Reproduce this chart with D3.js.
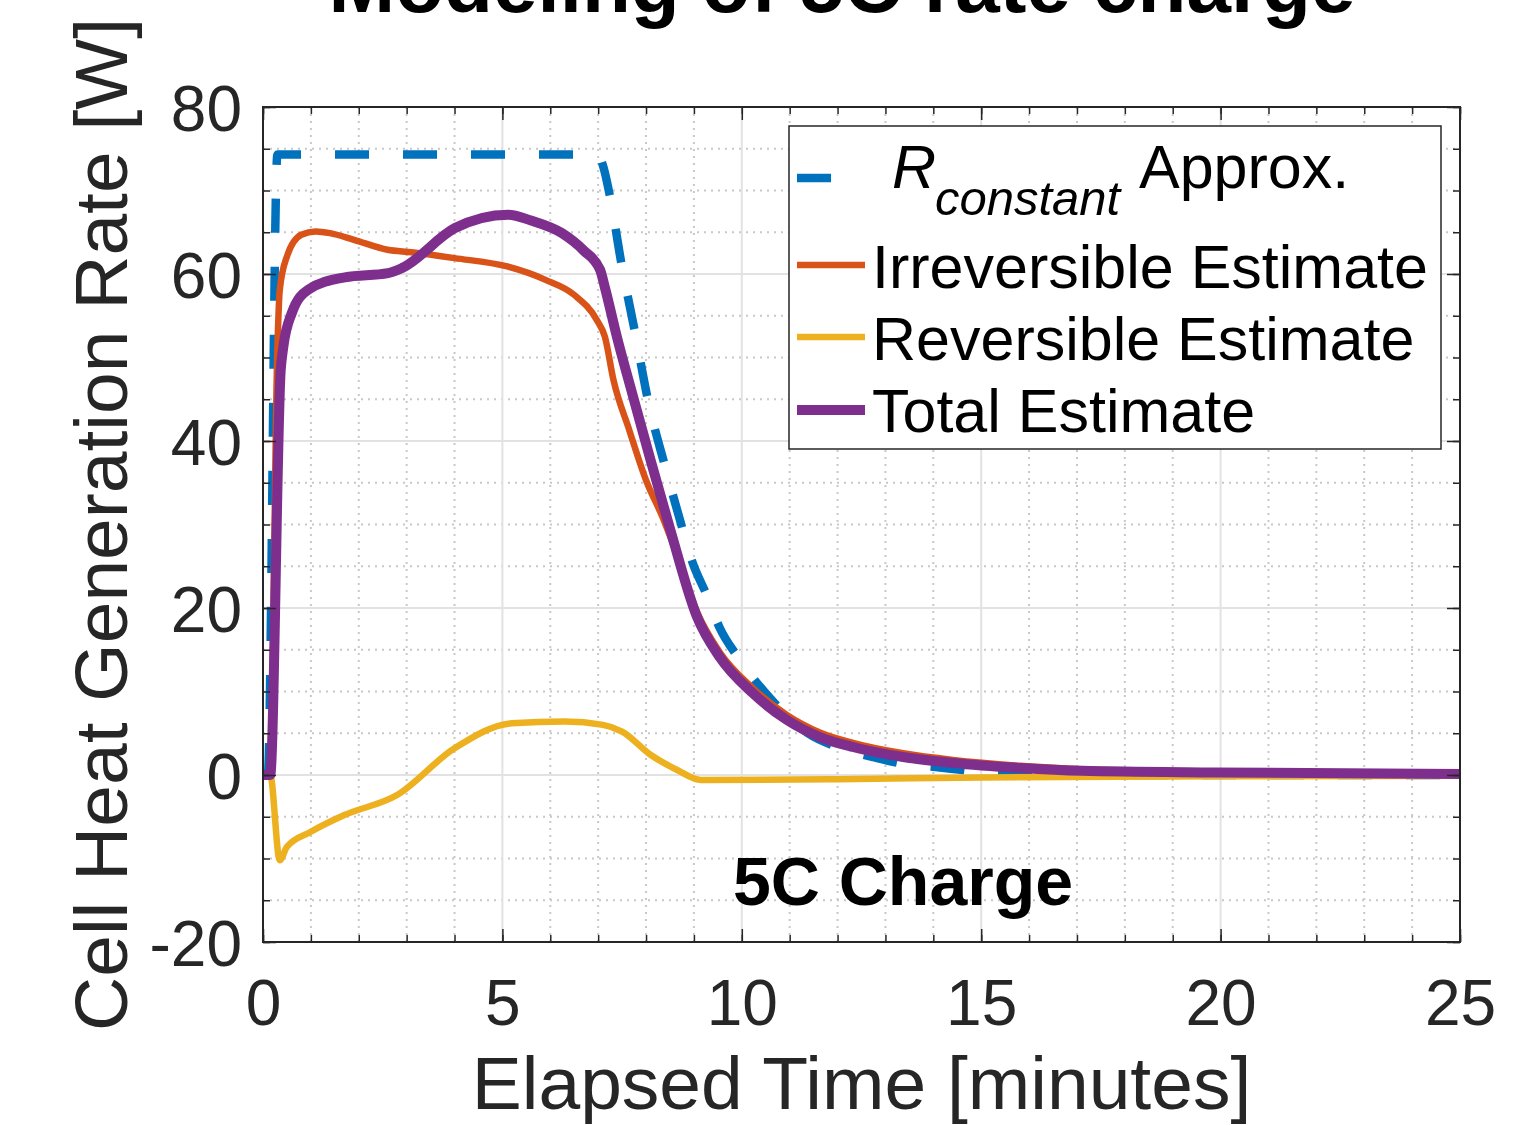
<!DOCTYPE html>
<html>
<head>
<meta charset="utf-8">
<script src="https://cdn.jsdelivr.net/npm/d3@7"></script>
<style>
  html, body { margin: 0; padding: 0; background: #fff; }
  svg text { font-family: "Liberation Sans", Arial, Helvetica, sans-serif; }
</style>
</head>
<body>
<div id="chart"></div>
<script>
// Heat generation during a 5C charge
const xTicks = [0, 5, 10, 15, 20, 25];
const yTicks = [-20, 0, 20, 40, 60, 80];
const xMinorTicks = d3.range(0, 26, 1);
const yMinorTicks = d3.range(-20, 81, 5);

const seriesNames = ["R constant Approx.", "Irreversible Estimate", "Reversible Estimate", "Total Estimate"];
const seriesColors = ["#0072BD", "#D95319", "#EDB120", "#7E2F8E"];

// R_constant approximation (dashed)
const rConstT = [0, 0.1, 0.3, 7.0, 7.1, 7.25, 7.49, 7.77, 8.04, 8.4, 8.77, 8.95, 9.27, 9.54, 9.92, 10.59, 11.38, 12.0, 12.74, 13.41, 14.14, 14.83, 15.2, 25];
const rConstQ = [0, 0, 74.3, 74.3, 73, 69.2, 61.1, 53, 44.9, 36.9, 29.3, 25.8, 21.5, 17.6, 14.1, 9.2, 5.0, 3.35, 2.15, 1.3, 0.9, 0.4, 0, 0];

// Irreversible estimate
const irrT = [0, 0.15, 0.3, 0.35, 0.5, 0.8, 1.1, 1.4, 1.9, 2.6, 3.1, 4.0, 5.1, 5.9, 6.5, 6.97, 7.14, 7.32, 7.65, 8.0, 8.35, 8.7, 9.06, 9.54, 10.23, 10.94, 11.63, 12.32, 13.37, 14.41, 15.81, 17.1, 19.9, 25];
const irrQ = [0, 0, 51, 58.1, 62.1, 64.7, 65.1, 64.9, 64.1, 62.9, 62.6, 61.9, 60.9, 59.3, 57.5, 54.5, 52.5, 47.3, 41.3, 35.3, 30.8, 25.5, 19.6, 14.7, 10.4, 7.2, 5.1, 3.85, 2.6, 1.8, 1.1, 0.7, 0.42, 0.22];

// Reversible estimate
const revT = [0, 0.15, 0.35, 0.5, 1.0, 1.7, 2.8, 4.0, 5.2, 6.3, 7.1, 7.5, 8.1, 8.65, 9.15, 12, 15, 20, 25];
const revQ = [0, 0, -10.2, -8.6, -6.8, -4.8, -2.4, 3.2, 6.2, 6.4, 6.0, 5.2, 2.4, 0.6, -0.6, -0.5, -0.3, -0.15, -0.1];

// Total estimate
const totT = [0, 0.15, 0.37, 0.42, 0.6, 0.94, 1.71, 2.61, 2.9, 4.01, 5.12, 5.6, 6.24, 6.7, 7.04, 7.14, 7.39, 7.73, 8.08, 8.5, 9.06, 9.54, 10.23, 10.94, 11.63, 12.32, 13.37, 14.41, 15.81, 17.1, 19.9, 25];
const totQ = [0, 0, 48.5, 51.1, 55.3, 58.1, 59.6, 60.1, 60.7, 65.5, 67.1, 66.4, 64.9, 62.8, 60.5, 58.4, 52.5, 45.3, 38, 29.5, 19, 14.1, 9.8, 6.6, 4.55, 3.35, 2.15, 1.44, 0.84, 0.5, 0.3, 0.12];

(function () {
  const W = 1521, H = 1125;
  const plot = { left: 263, right: 1460, top: 107, bottom: 942 };
  const axisColor = "#262626";

  const svg = d3.select("#chart").append("svg")
    .attr("width", W).attr("height", H)
    .attr("viewBox", `0 0 ${W} ${H}`);

  svg.append("rect").attr("width", W).attr("height", H).attr("fill", "#fff");

  const x = d3.scaleLinear().domain([0, 25]).range([plot.left, plot.right]);
  const y = d3.scaleLinear().domain([-20, 80]).range([plot.bottom, plot.top]);

  // minor grid (dotted)
  const grid = svg.append("g");
  grid.selectAll(".mx").data(xMinorTicks.filter(v => !xTicks.includes(v)))
    .join("line")
    .attr("x1", d => x(d)).attr("x2", d => x(d))
    .attr("y1", plot.top).attr("y2", plot.bottom);
  grid.selectAll(".my").data(yMinorTicks.filter(v => !yTicks.includes(v)))
    .join("line")
    .attr("y1", d => y(d)).attr("y2", d => y(d))
    .attr("x1", plot.left).attr("x2", plot.right);
  grid.selectAll("line")
    .attr("stroke", "#c8c8c8").attr("stroke-width", 2).attr("stroke-dasharray", "2,5");

  // major grid
  const major = svg.append("g");
  major.selectAll(".gx").data(xTicks).join("line")
    .attr("x1", d => x(d)).attr("x2", d => x(d))
    .attr("y1", plot.top).attr("y2", plot.bottom);
  major.selectAll(".gy").data(yTicks).join("line")
    .attr("y1", d => y(d)).attr("y2", d => y(d))
    .attr("x1", plot.left).attr("x2", plot.right);
  major.selectAll("line").attr("stroke", "#e2e2e2").attr("stroke-width", 2);

  // series
  const series = [
    { t: rConstT, q: rConstQ, width: 8.5, dash: "34,34", offset: 65 },
    { t: irrT, q: irrQ, width: 6.5 },
    { t: revT, q: revQ, width: 6.5 },
    { t: totT, q: totQ, width: 10 }
  ];

  const line = d3.line()
    .x(d => x(d[0]))
    .y(d => y(d[1]))
    .curve(d3.curveMonotoneX);

  series.forEach((s, i) => {
    const pts = s.t.map((t, k) => [t, s.q[k]]);
    svg.append("path")
      .datum(pts)
      .attr("d", line)
      .attr("fill", "none")
      .attr("stroke", seriesColors[i])
      .attr("stroke-width", s.width)
      .attr("stroke-linejoin", "round")
      .attr("stroke-dasharray", s.dash || null)
      .attr("stroke-dashoffset", s.offset || null);
  });

  // ticks on all four sides, pointing inward
  function tickAxis(gen, values, size, transform) {
    svg.append("g").attr("transform", transform)
      .call(gen.tickValues(values).tickSize(-size).tickSizeOuter(0).tickFormat(""))
      .call(g => g.select(".domain").remove())
      .call(g => g.selectAll("line").attr("stroke", axisColor).attr("stroke-width", 1.5));
  }
  tickAxis(d3.axisBottom(x), xMinorTicks, 7, `translate(0,${plot.bottom})`);
  tickAxis(d3.axisTop(x), xMinorTicks, 7, `translate(0,${plot.top})`);
  tickAxis(d3.axisLeft(y), yMinorTicks, 7, `translate(${plot.left},0)`);
  tickAxis(d3.axisRight(y), yMinorTicks, 7, `translate(${plot.right},0)`);
  tickAxis(d3.axisTop(x), xTicks, 13, `translate(0,${plot.top})`);
  tickAxis(d3.axisRight(y), yTicks, 13, `translate(${plot.right},0)`);

  // labelled axes
  const xAxis = svg.append("g").attr("transform", `translate(0,${plot.bottom})`)
    .call(d3.axisBottom(x).tickValues(xTicks).tickSize(-13).tickSizeOuter(0).tickFormat(d => String(d)));
  xAxis.select(".domain").remove();
  xAxis.selectAll("line").attr("stroke", axisColor).attr("stroke-width", 1.5);
  xAxis.selectAll("text")
    .attr("y", 38).attr("dy", "0.71em")
    .attr("font-size", 64).attr("fill", axisColor)
    .style("font-family", "'Liberation Sans', Arial, sans-serif");

  const yAxis = svg.append("g").attr("transform", `translate(${plot.left},0)`)
    .call(d3.axisLeft(y).tickValues(yTicks).tickSize(-13).tickSizeOuter(0).tickFormat(d => String(d)));
  yAxis.select(".domain").remove();
  yAxis.selectAll("line").attr("stroke", axisColor).attr("stroke-width", 1.5);
  yAxis.selectAll("text")
    .attr("x", -21).attr("dy", "0.37em")
    .attr("font-size", 64).attr("fill", axisColor)
    .style("font-family", "'Liberation Sans', Arial, sans-serif");

  // axes box
  svg.append("rect")
    .attr("x", plot.left).attr("y", plot.top)
    .attr("width", plot.right - plot.left).attr("height", plot.bottom - plot.top)
    .attr("fill", "none").attr("stroke", axisColor).attr("stroke-width", 2);

  // axis titles
  svg.append("text")
    .attr("x", (plot.left + plot.right) / 2).attr("y", 1109)
    .attr("text-anchor", "middle").attr("font-size", 75).attr("fill", axisColor)
    .text("Elapsed Time [minutes]");

  svg.append("text")
    .attr("transform", `translate(127,${(plot.top + plot.bottom) / 2}) rotate(-90)`)
    .attr("text-anchor", "middle").attr("font-size", 75).attr("fill", axisColor)
    .text("Cell Heat Generation Rate [W]");

  // title (cut off at the top edge in the original)
  svg.append("text")
    .attr("x", 842).attr("y", 12)
    .attr("text-anchor", "middle").attr("font-size", 80).attr("font-weight", "bold")
    .attr("fill", "#000")
    .text("Modeling of 5C rate charge");

  // annotation
  svg.append("text")
    .attr("x", 903).attr("y", 905)
    .attr("text-anchor", "middle").attr("font-size", 68).attr("font-weight", "bold")
    .attr("fill", "#000")
    .text("5C Charge");

  // legend
  const legend = svg.append("g");
  legend.append("rect")
    .attr("x", 789).attr("y", 126).attr("width", 652).attr("height", 323)
    .attr("fill", "#fff").attr("stroke", axisColor).attr("stroke-width", 1.5);

  const rowLineY = [178, 265, 337, 410];
  const rowTextY = [188, 288, 360, 432];

  seriesNames.forEach((name, i) => {
    legend.append("line")
      .attr("x1", 797).attr("x2", 865)
      .attr("y1", rowLineY[i]).attr("y2", rowLineY[i])
      .attr("stroke", seriesColors[i])
      .attr("stroke-width", series[i].width)
      .attr("stroke-dasharray", series[i].dash || null);

    if (i === 0) {
      const t = legend.append("text").attr("y", rowTextY[i]).attr("fill", "#000").attr("font-size", 61);
      t.append("tspan").attr("x", 892).attr("font-style", "italic").text("R");
      t.append("tspan").attr("x", 935).attr("dy", 27).attr("font-size", 49)
        .attr("font-style", "italic").text("constant");
      t.append("tspan").attr("x", 1139).attr("dy", -27).text("Approx.");
    } else {
      legend.append("text")
        .attr("x", 872).attr("y", rowTextY[i])
        .attr("font-size", 61).attr("fill", "#000")
        .text(name);
    }
  });
})();
</script>
</body>
</html>
